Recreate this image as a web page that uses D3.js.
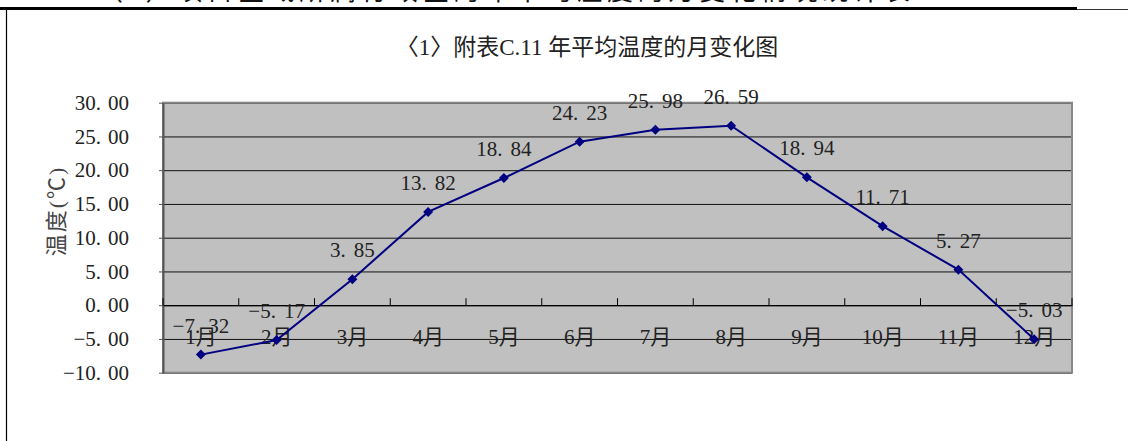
<!DOCTYPE html>
<html>
<head>
<meta charset="utf-8">
<script src="https://cdn.jsdelivr.net/npm/d3@7"></script>
<style>
  html, body { margin: 0; padding: 0; background: #fff; }
  svg { display: block; }
  text { font-family: "Liberation Serif", "Noto Sans CJK SC", serif; fill: #222; }
</style>
</head>
<body>
<div id="container"></div>
<script>
const months = ["1月","2月","3月","4月","5月","6月","7月","8月","9月","10月","11月","12月"];
const temps  = [-7.32, -5.17, 3.85, 13.82, 18.84, 24.23, 25.98, 26.59, 18.94, 11.71, 5.27, -5.03];
const yTicks = [-10, -5, 0, 5, 10, 15, 20, 25, 30];

const width  = 1128;
const height = 441;
const plot   = { left: 163, right: 1072, top: 102.7, bottom: 372.7 };

const fmt = d3.format(".2f");

// writes "30.00" as two tspans so the wide gap after the point shows, like the scan
function splitNumber(sel, v, gap) {
  const [a, b] = fmt(v).split(".");
  sel.text(null);
  sel.append("tspan").text(a + ".");
  sel.append("tspan").attr("dx", gap).text(b);
}

const svg = d3.select("#container")
  .append("svg")
    .attr("width", width)
    .attr("height", height);

// page bits around the chart (cut-off heading line, rules, frame)
svg.append("text")
  .attr("x", 97)
  .attr("y", 0)
  .attr("font-size", 26)
  .attr("textLength", 813)
  .style("fill", "#111")
  .text("（3）项目区域所属行政区的年平均温度的月变化情况统计表");

svg.append("line")
  .attr("x1", 0).attr("x2", 1077)
  .attr("y1", 8.5).attr("y2", 8.5)
  .attr("stroke", "#000").attr("stroke-width", 3);
svg.append("line")
  .attr("x1", 1077).attr("x2", width)
  .attr("y1", 9.5).attr("y2", 9.5)
  .attr("stroke", "#333").attr("stroke-width", 1);
svg.append("line")
  .attr("x1", 6.5).attr("x2", 6.5)
  .attr("y1", 10).attr("y2", height)
  .attr("stroke", "#000").attr("stroke-width", 1.2);

const x = d3.scaleBand()
  .domain(months)
  .range([plot.left, plot.right]);

const y = d3.scaleLinear()
  .domain([-10, 30])
  .range([plot.bottom, plot.top]);

// plot background
svg.append("rect")
  .attr("x", plot.left)
  .attr("y", plot.top)
  .attr("width", plot.right - plot.left)
  .attr("height", plot.bottom - plot.top)
  .attr("fill", "#c0c0c0");

// gridlines
svg.append("g")
  .attr("transform", `translate(${plot.left},0)`)
  .call(d3.axisLeft(y).tickValues(yTicks).tickSize(-(plot.right - plot.left)).tickFormat(""))
  .call(g => g.select(".domain").remove())
  .call(g => g.selectAll(".tick line").attr("stroke", "#111").attr("stroke-width", 1));

// plot border
svg.append("rect")
  .attr("x", plot.left)
  .attr("y", plot.top)
  .attr("width", plot.right - plot.left)
  .attr("height", plot.bottom - plot.top)
  .attr("fill", "none")
  .attr("stroke", "#888")
  .attr("stroke-width", 2);

// y axis
svg.append("g")
  .attr("transform", `translate(${plot.left},0)`)
  .call(d3.axisLeft(y).tickValues(yTicks).tickSizeInner(4).tickSizeOuter(0).tickPadding(30).tickFormat(fmt))
  .call(g => g.select(".domain").attr("stroke", "#555").attr("stroke-width", 2))
  .call(g => g.selectAll(".tick line").attr("stroke", "#555"))
  .call(g => g.selectAll(".tick text")
    .attr("font-size", 21)
    .attr("font-family", "Liberation Serif, serif")
    .style("fill", "#222")
    .each(function(d) { splitNumber(d3.select(this), d, 7); }));

svg.append("text")
  .attr("transform", "translate(64,211) rotate(-90)")
  .attr("text-anchor", "middle")
  .attr("font-size", 22)
  .attr("letter-spacing", 2)
  .style("fill", "#444")
  .text("温度(℃)");

// category axis on the zero line
const xAxis = svg.append("g")
  .attr("transform", `translate(0,${y(0)})`)
  .call(d3.axisBottom(x).tickSize(0).tickPadding(24))
  .call(g => g.select(".domain").attr("stroke", "#000").attr("stroke-width", 1.2))
  .call(g => g.selectAll(".tick text")
    .attr("font-size", 21)
    .style("fill", "#222"));

xAxis.selectAll("line.boundary")
  .data(months.map(m => x(m)).concat([x.range()[1]]))
  .join("line")
    .attr("class", "boundary")
    .attr("x1", d => d).attr("x2", d => d)
    .attr("y1", 0).attr("y2", -7)
    .attr("stroke", "#000");

// series
const pts = months.map((m, i) => ({ m, v: temps[i] }));
const cx = d => x(d.m) + x.bandwidth() / 2;

svg.append("path")
  .datum(pts)
  .attr("fill", "none")
  .attr("stroke", "#000080")
  .attr("stroke-width", 2)
  .attr("d", d3.line().x(cx).y(d => y(d.v)));

svg.selectAll("path.marker")
  .data(pts)
  .join("path")
    .attr("class", "marker")
    .attr("transform", d => `translate(${cx(d)},${y(d.v)}) rotate(45)`)
    .attr("d", d3.symbol(d3.symbolSquare, 50))
    .attr("fill", "#000080");

// data labels
svg.selectAll("text.val")
  .data(pts)
  .join("text")
    .attr("class", "val")
    .attr("x", cx)
    .attr("y", d => y(d.v) - 22)
    .attr("text-anchor", "middle")
    .attr("font-size", 21)
    .style("fill", "#222")
    .each(function(d) { splitNumber(d3.select(this), d.v, 8); });

// title
svg.append("text")
  .attr("x", 587)
  .attr("y", 55)
  .attr("text-anchor", "middle")
  .attr("font-size", 23)
  .style("fill", "#222")
  .text("〈1〉附表C.11 年平均温度的月变化图");
</script>
</body>
</html>
